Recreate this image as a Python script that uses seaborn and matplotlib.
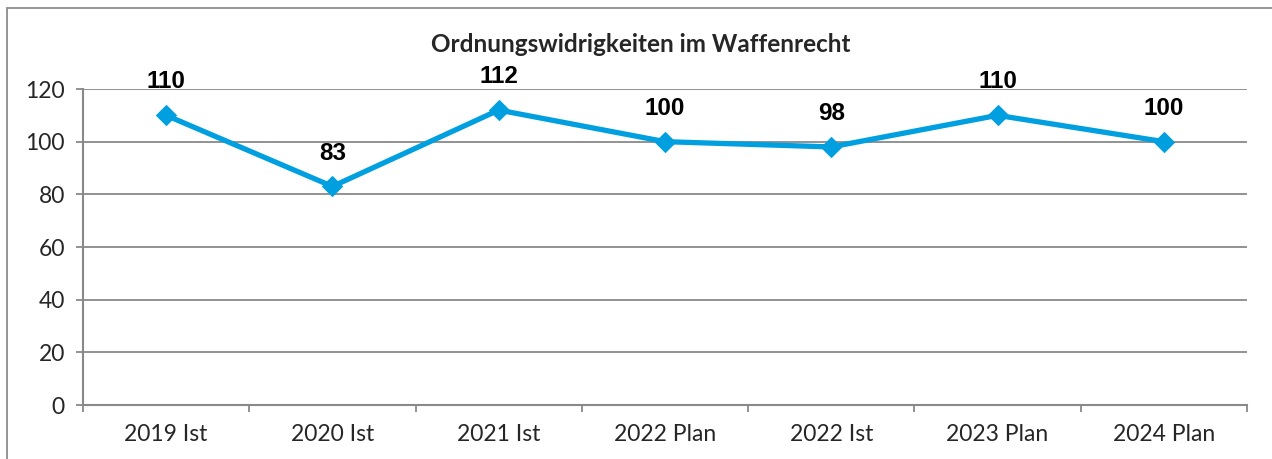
"""
Ordnungswidrigkeiten im Waffenrecht - line chart with value labels.

Output: out.png
"""

import matplotlib.pyplot as plt
import pandas as pd
import seaborn as sns
from matplotlib.patches import Rectangle

CATEGORIES = ["2019 Ist", "2020 Ist", "2021 Ist", "2022 Plan", "2022 Ist", "2023 Plan", "2024 Plan"]
VALUES = [110, 83, 112, 100, 98, 110, 100]
Y_TICKS = [0, 20, 40, 60, 80, 100, 120]
TITLE = "Ordnungswidrigkeiten im Waffenrecht"

LINE_COLOR = "#00A0E0"
GRID_COLOR = "#898989"
W, H = 1272, 459


def main() -> None:
    sns.set_style("white")
    plt.rcParams["font.family"] = ["Lato", "DejaVu Sans"]

    df = pd.DataFrame({"pos": range(len(CATEGORIES)), "value": VALUES})

    fig = plt.figure(figsize=(W / 100, H / 100), dpi=100)
    ax = fig.add_axes([83 / W, 1 - 405 / H, (1247 - 83) / W, (405 - 89) / H])

    sns.lineplot(data=df, x="pos", y="value", ax=ax, color=LINE_COLOR,
                 linewidth=3.8, marker="D", markersize=10,
                 markeredgecolor=LINE_COLOR, zorder=5)

    for x, v in zip(df["pos"], df["value"]):
        ax.annotate(str(v), (x, v), xytext=(0, 24), textcoords="offset points",
                    ha="center", va="center", fontsize=17.5, fontweight="bold",
                    family=["Liberation Sans", "DejaVu Sans"], color="black")

    ax.set_xlim(-0.5, len(CATEGORIES) - 0.5)
    ax.set_ylim(0, 120)
    ax.set_yticks(Y_TICKS)
    ax.set_xticks(range(len(CATEGORIES)))
    ax.set_xticklabels(CATEGORIES)
    ax.set_xticks([i - 0.5 for i in range(len(CATEGORIES) + 1)], minor=True)
    ax.set_xlabel("")
    ax.set_ylabel("")

    ax.grid(axis="y", color=GRID_COLOR, linewidth=1.3)
    ax.set_axisbelow(True)
    for side in ("top", "right"):
        ax.spines[side].set_visible(False)
    for side in ("left", "bottom"):
        ax.spines[side].set_color(GRID_COLOR)
        ax.spines[side].set_linewidth(1.5)

    ax.tick_params(axis="y", which="major", left=True, length=5, width=1.3,
                   color=GRID_COLOR, labelsize=16.5, pad=8)
    ax.tick_params(axis="x", which="major", bottom=False, labelsize=16.5, pad=10)
    ax.tick_params(axis="x", which="minor", bottom=True, length=5, width=1.3,
                   color=GRID_COLOR)

    fig.text(641 / W, 1 - 45 / H, TITLE, ha="center", va="center",
             fontsize=17.5, fontweight="bold")

    fig.patches.append(Rectangle((7 / W, -0.1), 1.2, 1 - 8 / H + 0.1,
                                 transform=fig.transFigure, fill=False,
                                 edgecolor="#8c8c8c", linewidth=1.3))

    fig.savefig("out.png", dpi=100)
    plt.close(fig)


if __name__ == "__main__":
    main()
